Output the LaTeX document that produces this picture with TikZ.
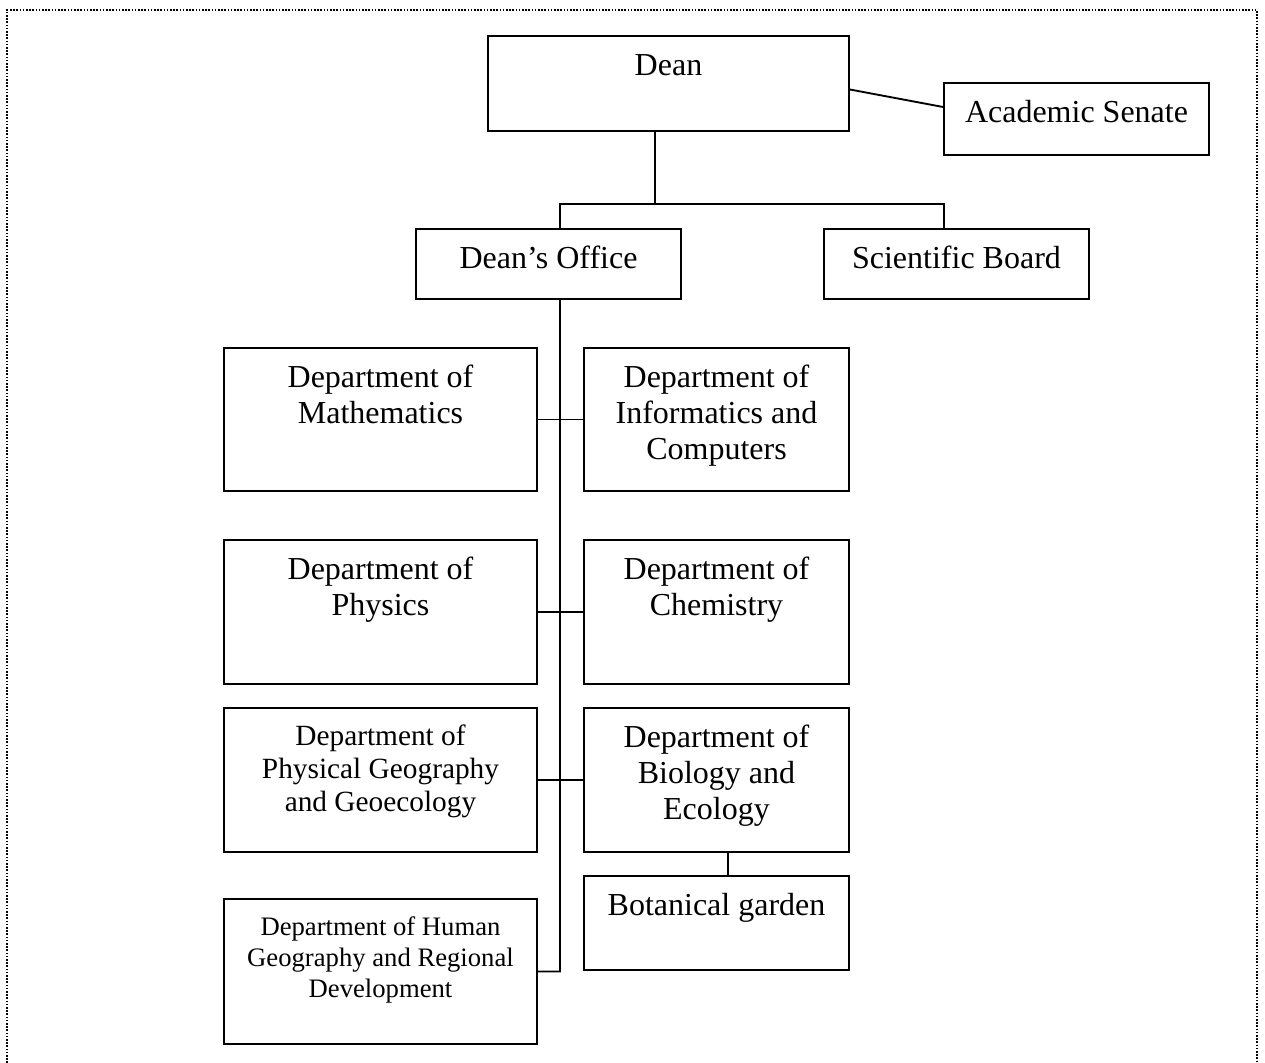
\documentclass[tikz,border=0pt]{standalone}
\usepackage{fontspec}
\setmainfont{Liberation Serif}
\tikzset{
  orgbox/.style={draw, line width=1.4pt, inner sep=0pt, rectangle},
  bigtxt/.style={anchor=north, align=center, inner sep=0pt, font=\fontsize{24}{27}\selectfont},
  midtxt/.style={anchor=north, align=center, inner sep=0pt, font=\fontsize{22}{25}\selectfont},
  smalltxt/.style={anchor=north, align=center, inner sep=0pt, font=\fontsize{20}{23.25}\selectfont},
  link/.style={line width=1.4pt},
  frame/.style={line width=1.2pt, dash pattern=on 1.2pt off 1.2pt}
}
\begin{document}
\begin{tikzpicture}[x=0.75pt,y=-0.75pt]
\useasboundingbox (0,0) rectangle (1265,1063);
\draw[frame] (7,1063) -- (7,10) -- (1257,10) -- (1257,1063);

% boxes
\node[orgbox, minimum width=270.75pt, minimum height=71.25pt] (dean) at (668.5,83.5) {};
\node[orgbox, minimum width=198.75pt, minimum height=54pt] (senate) at (1076.5,119) {};
\node[orgbox, minimum width=198.75pt, minimum height=52.5pt] (office) at (548.5,264) {};
\node[orgbox, minimum width=198.75pt, minimum height=52.5pt] (board) at (956.5,264) {};
\node[orgbox, minimum width=234.75pt, minimum height=107.25pt] (math) at (380.5,419.5) {};
\node[orgbox, minimum width=198.75pt, minimum height=107.25pt] (info) at (716.5,419.5) {};
\node[orgbox, minimum width=234.75pt, minimum height=108pt] (phys) at (380.5,612) {};
\node[orgbox, minimum width=198.75pt, minimum height=108pt] (chem) at (716.5,612) {};
\node[orgbox, minimum width=234.75pt, minimum height=108pt] (pgeo) at (380.5,780) {};
\node[orgbox, minimum width=198.75pt, minimum height=108pt] (bio) at (716.5,780) {};
\node[orgbox, minimum width=198.75pt, minimum height=70.5pt] (bot) at (716.5,923) {};
\node[orgbox, minimum width=234.75pt, minimum height=108.75pt] (hgeo) at (380.5,971.5) {};

% texts
\node[bigtxt] (tdean) at ([yshift=-11.5pt]dean.north) {\strut Dean};
\node[bigtxt] (tsenate) at ([yshift=-11.5pt]senate.north) {\strut Academic Senate};
\node[bigtxt] (toffice) at ([yshift=-11pt]office.north) {\strut Dean’s Office};
\node[bigtxt] (tboard) at ([yshift=-11pt]board.north) {\strut Scientific Board};
\node[bigtxt] (tmath) at ([yshift=-11.5pt]math.north) {\strut Department of\\Mathematics};
\node[bigtxt] (tinfo) at ([yshift=-11.5pt]info.north) {\strut Department of\\Informatics and\\Computers};
\node[bigtxt] (tphys) at ([yshift=-11.5pt]phys.north) {\strut Department of\\Physics};
\node[bigtxt] (tchem) at ([yshift=-11.5pt]chem.north) {\strut Department of\\Chemistry};
\node[midtxt] (tpgeo) at ([yshift=-10.8pt]pgeo.north) {\strut Department of\\Physical Geography\\and Geoecology};
\node[bigtxt] (tbio) at ([yshift=-11.5pt]bio.north) {\strut Department of\\Biology and\\Ecology};
\node[bigtxt] (tbot) at ([yshift=-11.5pt]bot.north) {\strut Botanical garden};
\node[smalltxt] (thgeo) at ([yshift=-11.3pt]hgeo.north) {\strut Department of Human\\Geography and Regional\\Development};

% connectors
\coordinate (bar) at (655,204);
\coordinate (spineend) at (560,971.5);
\draw[link] ([yshift=-4.5pt]dean.east) -- ([yshift=9pt]senate.west);
\draw[link] ([xshift=-10pt]dean.south) -- ([xshift=-10pt]dean.south |- bar);
\draw[link] ([xshift=8.6pt]office.north) -- ([xshift=8.6pt]office.north |- bar) -- ([xshift=-9.4pt]board.north |- bar) -- ([xshift=-9.4pt]board.north);
\draw[link] ([xshift=8.6pt]office.south) -- (spineend) -- (hgeo.east);
\draw[link] (math.east) -- (info.west);
\draw[link] (phys.east) -- (chem.west);
\draw[link] (pgeo.east) -- (bio.west);
\draw[link] ([xshift=8.6pt]bio.south) -- ([xshift=8.6pt]bot.north);
\end{tikzpicture}
\end{document}
